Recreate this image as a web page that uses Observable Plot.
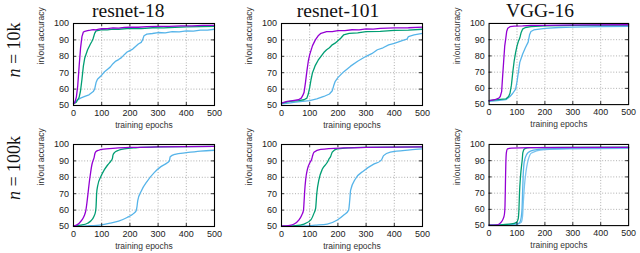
<!DOCTYPE html>
<html>
<head>
<meta charset="utf-8">
<script src="https://cdn.jsdelivr.net/npm/d3@7"></script>
<script src="https://cdn.jsdelivr.net/npm/@observablehq/plot@0.6"></script>
<style>
  html, body { margin: 0; padding: 0; background: #fff; }
  #wrap { position: relative; width: 640px; height: 253px; overflow: hidden; }
  #wrap .panel { position: absolute; }
  #wrap svg { overflow: visible; }
  #overlay { position: absolute; left: 0; top: 0; }
</style>
</head>
<body>
<div id="wrap"></div>
<script>
// ---------------- data ----------------
const models = ["resnet-18", "resnet-101", "VGG-16"];
const sizes = ["10k", "100k"];
const epochTicks = [0, 100, 200, 300, 400, 500];
const accTicks = [50, 60, 70, 80, 90, 100];
const xLabel = "training epochs";
const yLabel = "in/out accuracy";

// n = 10k
const r18_10k_purple = [[0,51],[5,52],[10,55],[15,62],[20,74],[25,85],[30,92],[35,94.8],[40,95.2],[50,95.6],[60,95.9],[70,96.3],[80,96.1],[90,96.6],[100,96.8],[120,96.9],[140,97.3],[160,97.2],[180,97.6],[200,97.8],[230,97.7],[260,98.1],[300,98.3],[340,98.2],[380,98.6],[420,98.5],[460,98.8],[500,98.8]];
const r18_10k_green = [[0,51],[10,52],[20,55],[25,59],[30,66],[35,74],[40,79],[50,84],[60,87.5],[65,89],[70,91],[75,94],[80,95.5],[90,95.8],[100,96.3],[120,96.1],[140,96.6],[160,96.5],[200,97],[240,96.9],[280,97.4],[320,97.3],[360,97.7],[400,97.9],[450,98.1],[500,98.3]];
const r18_10k_blue = [[0,51.5],[10,53],[25,54.5],[40,55.5],[55,56.5],[70,58.5],[75,60],[80,64],[85,66],[100,68.5],[110,70.6],[120,72],[130,73.4],[140,75.5],[150,77.1],[160,78],[170,79.2],[180,81],[190,82.6],[200,83.5],[210,84.4],[220,86],[230,87.5],[240,88.5],[245,90],[250,92.5],[260,93.5],[280,93.9],[300,94.5],[325,94.3],[350,95],[375,94.9],[400,95.5],[425,95.4],[450,96],[475,95.9],[500,96.5]];

const r101_10k_purple = [[0,51.5],[20,52.5],[40,53],[60,53.5],[70,54.5],[75,56],[80,58],[85,64],[90,71],[95,77],[100,81],[110,86.5],[120,90],[130,92.5],[140,94],[160,95],[180,95.1],[200,95.7],[225,95.6],[250,96.2],[275,96.1],[300,96.7],[325,96.6],[350,97],[400,97.3],[450,97.4],[500,97.8]];
const r101_10k_green = [[0,51.5],[30,52.5],[60,53],[80,53.5],[90,54.5],[95,57],[100,61],[105,66],[110,70],[120,74.5],[130,77.6],[140,80],[150,82.3],[160,84],[170,85.2],[180,87],[190,88],[200,89.5],[210,91],[220,93],[240,94],[270,94.3],[300,95],[350,95.2],[400,95.8],[450,95.9],[500,96.5]];
const r101_10k_blue = [[0,51],[25,51.5],[50,52],[75,52.5],[100,53],[125,54],[150,55.5],[170,57],[180,59],[185,62],[190,64.5],[200,67],[220,70.5],[245,74],[270,77],[300,80],[320,81.6],[340,84],[360,85.2],[380,87],[400,87.9],[433,89.8],[445,90.5],[450,92],[470,93],[500,94]];

const vgg_10k_purple = [[0,52.5],[20,53],[35,54],[40,55],[45,58],[48,66],[52,76],[56,86],[60,91],[63,95],[67,97],[75,98],[90,98.4],[120,98.5],[150,98.8],[200,98.8],[250,99],[350,99.1],[500,99.2]];
const vgg_10k_green = [[0,52.5],[30,53],[60,53.5],[70,55],[75,57],[80,62],[85,70],[90,77],[95,82],[100,86],[105,89],[110,91],[115,94.5],[120,96.5],[130,97.5],[150,98],[200,98.5],[300,98.8],[500,99]];
const vgg_10k_blue = [[0,52],[30,52.5],[60,53],[75,55],[85,57],[95,59.5],[100,64],[105,70],[110,76],[120,81],[130,85],[140,88.5],[145,93],[150,95],[160,96],[200,97],[250,97.5],[300,97.8],[400,98],[500,98.2]];

// n = 100k
const r18_100k_purple = [[0,50.3],[10,50.8],[20,52],[30,54],[38,56.5],[44,60],[48,65],[52,71],[56,77],[60,82],[65,87.5],[70,90.5],[73,92],[76,94.5],[80,95.7],[90,96.5],[100,97],[150,97.8],[200,98.2],[300,98.5],[500,98.8]];
const r18_100k_green = [[0,50.3],[25,50.8],[50,52],[62,53.5],[72,56],[78,59],[80,62],[82,70],[86,75],[97,80.5],[109,84.5],[121,87.5],[133,90],[138,91.5],[140,93.5],[145,95],[160,96.5],[180,97.3],[220,98],[300,98.5],[500,98.8]];
const r18_100k_blue = [[0,50.2],[50,50.4],[100,51],[130,52],[160,53.3],[190,55.5],[210,57.5],[222,59.5],[225,62],[228,66],[240,71.5],[263,78],[287,83],[310,86.5],[334,89],[340,90],[343,92.5],[360,94],[400,95],[450,96],[500,96.5]];

const r101_100k_purple = [[0,50.3],[30,50.7],[45,51.5],[62,54],[72,57],[78,60],[80,65],[82,71],[86,79],[92,85],[101,89],[107,91],[110,93],[115,95.3],[139,97],[221,97.9],[300,98.2],[500,98.5]];
const r101_100k_green = [[0,50.2],[50,50.5],[80,51.5],[104,54],[115,58],[121,61],[125,70],[133,78.8],[145,85],[162,89],[168,91],[174,92.6],[180,95.3],[198,97.3],[280,98.2],[500,98.5]];
const r101_100k_blue = [[0,50.1],[80,50.3],[120,50.8],[162,51.5],[198,54],[221,57],[238,60],[242,66],[245,72],[262,79],[292,84],[327,88],[351,90],[356,91],[362,93.2],[386,95.3],[456,96.7],[500,97.3]];

const vgg_100k_purple = [[0,50.3],[30,50.5],[40,51.5],[50,54],[55,57],[57,62],[58,70],[59,80],[60,88],[62,95],[66,97.3],[80,97.7],[150,98],[500,98.2]];
const vgg_100k_green = [[0,50.3],[50,50.6],[80,51],[98,52],[104,54],[107,60],[109,70],[113,81],[119,91],[121,95],[127,97.3],[145,98],[250,98.2],[500,98.3]];
const vgg_100k_blue = [[0,50.3],[50,50.5],[100,51],[110,52],[115,55],[118,60],[120,70],[122,80],[125,88],[130,92],[140,95],[160,96.5],[200,97.3],[300,97.7],[500,98]];
const vgg_100k_blue2 = [[0,50.3],[100,50.8],[115,52],[120,56],[123,65],[127,75],[132,83],[138,89],[145,93],[150,94.5],[170,96],[200,96.8],[300,97.3],[500,97.6]];

// ---------------- layout / style ----------------
const COLORS = {purple: "#9400d3", green: "#009e73", blue: "#56b4e9", blue2: "#7cc4ee"};
const panels = [
  {row: 0, col: 0, smooth: false, series: [["blue", r18_10k_blue], ["green", r18_10k_green], ["purple", r18_10k_purple]]},
  {row: 0, col: 1, smooth: false, series: [["blue", r101_10k_blue], ["green", r101_10k_green], ["purple", r101_10k_purple]]},
  {row: 0, col: 2, smooth: false, series: [["blue", vgg_10k_blue], ["green", vgg_10k_green], ["purple", vgg_10k_purple]]},
  {row: 1, col: 0, smooth: true, series: [["blue", r18_100k_blue], ["green", r18_100k_green], ["purple", r18_100k_purple]]},
  {row: 1, col: 1, smooth: true, series: [["blue", r101_100k_blue], ["green", r101_100k_green], ["purple", r101_100k_purple]]},
  {row: 1, col: 2, smooth: true, series: [["blue2", vgg_100k_blue2], ["blue", vgg_100k_blue], ["green", vgg_100k_green], ["purple", vgg_100k_purple]]}
];

const frameLeft = [72.7, 280.7, 489];
const frameTop = [23.3, 144];
const FW = 141, FH = 82;
const ML = 40, MR = 12, MT = 4, MB = 30;
const wrap = document.getElementById("wrap");

const tickLenY = 3 * 50 / FH;   // 3px in accuracy units
const tickLenX = 3 * 500 / FW;  // 3px in epoch units
const innerX = epochTicks.slice(1, -1);
const innerY = accTicks.slice(1, -1);

for (const p of panels) {
  const lines = p.series.map(([c, pts]) =>
    Plot.line(pts, {x: d => d[0], y: d => d[1], stroke: COLORS[c], strokeWidth: 1.3,
      curve: p.smooth ? "monotone-x" : "linear"}));
  const chart = Plot.plot({
    width: ML + FW + MR, height: MT + FH + MB,
    marginLeft: ML, marginRight: MR, marginTop: MT, marginBottom: MB,
    x: {domain: [0, 500]},
    y: {domain: [50, 100]},
    style: {fontFamily: "'Liberation Sans', Arial, sans-serif", fontSize: "9px", background: "transparent", overflow: "visible", color: "#222"},
    marks: [
      Plot.ruleX(innerX, {stroke: "#9a9a9a", strokeWidth: 0.8, strokeDasharray: "1,1.8"}),
      Plot.ruleY(innerY, {stroke: "#9a9a9a", strokeWidth: 0.8, strokeDasharray: "1,1.8"}),
      ...lines,
      Plot.ruleX(innerX, {y1: 50, y2: 50 + tickLenY, stroke: "#000", strokeWidth: 0.8}),
      Plot.ruleX(innerX, {y1: 100 - tickLenY, y2: 100, stroke: "#000", strokeWidth: 0.8}),
      Plot.ruleY(innerY, {x1: 0, x2: tickLenX, stroke: "#000", strokeWidth: 0.8}),
      Plot.ruleY(innerY, {x1: 500 - tickLenX, x2: 500, stroke: "#000", strokeWidth: 0.8}),
      Plot.frame({stroke: "#000", strokeWidth: 1.1}),
      Plot.axisX(epochTicks, {tickSize: 0, tickPadding: 4.5, label: null, fill: "#222"}),
      Plot.axisY(accTicks, {tickSize: 0, tickPadding: 4.4, label: null, fill: "#222"}),
      Plot.text([yLabel], {frameAnchor: "left", dx: -32, rotate: -90, fontSize: 8.5, fill: "#333"}),
      Plot.text([xLabel], {frameAnchor: "bottom", dy: 22.5, fontSize: 8.5, fill: "#333"})
    ]
  });
  const div = document.createElement("div");
  div.className = "panel";
  div.style.left = (frameLeft[p.col] - ML) + "px";
  div.style.top = (frameTop[p.row] - MT) + "px";
  div.appendChild(chart);
  wrap.appendChild(div);
}

// titles and row labels as real text
const ns = "http://www.w3.org/2000/svg";
const ov = document.createElementNS(ns, "svg");
ov.setAttribute("id", "overlay");
ov.setAttribute("width", 640);
ov.setAttribute("height", 253);
const titleX = [128.3, 338, 540];
models.forEach((m, i) => {
  const t = document.createElementNS(ns, "text");
  t.setAttribute("x", titleX[i]);
  t.setAttribute("y", 16.7);
  t.setAttribute("text-anchor", "middle");
  t.setAttribute("font-family", "'Liberation Serif', 'Times New Roman', serif");
  t.setAttribute("font-size", "19.5");
  t.setAttribute("fill", "#111");
  t.textContent = m;
  ov.appendChild(t);
});
const rowY = [50, 168];
sizes.forEach((s, i) => {
  const t = document.createElementNS(ns, "text");
  t.setAttribute("transform", `translate(20,${rowY[i]}) rotate(-90)`);
  t.setAttribute("text-anchor", "middle");
  t.setAttribute("font-family", "'Liberation Serif', 'Times New Roman', serif");
  t.setAttribute("font-size", "18");
  t.setAttribute("fill", "#111");
  const ti = document.createElementNS(ns, "tspan");
  ti.setAttribute("font-style", "italic");
  ti.textContent = "n";
  t.appendChild(ti);
  t.appendChild(document.createTextNode(" = " + s));
  ov.appendChild(t);
});
wrap.appendChild(ov);
</script>
</body>
</html>
